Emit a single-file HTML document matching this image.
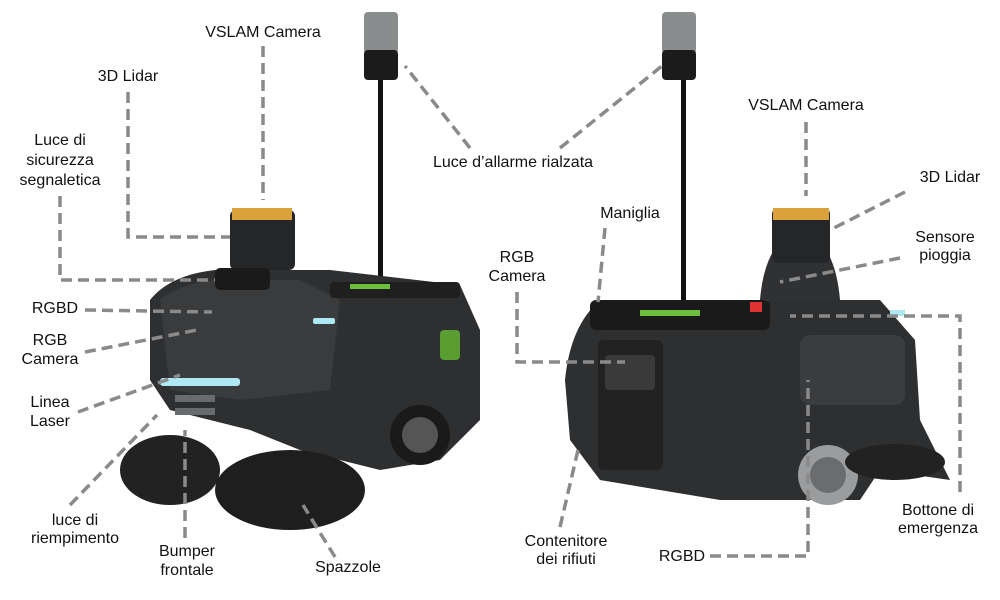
<!DOCTYPE html>
<html><head><meta charset="utf-8"><style>
html,body{margin:0;padding:0;background:#fff;}
svg{display:block;}
text{font-family:"Liberation Sans",sans-serif;font-size:16px;fill:#111;text-anchor:middle;}
.d{stroke:#8a8a8a;stroke-width:3.5;fill:none;stroke-dasharray:11 6;}
</style></head><body>
<svg width="1000" height="600" viewBox="0 0 1000 600" xmlns="http://www.w3.org/2000/svg">
<rect width="1000" height="600" fill="#fff"/>
<!-- LEFT ROBOT -->
<rect x="378" y="75" width="5" height="215" fill="#111"/>
<rect x="364" y="12" width="34" height="42" rx="4" fill="#8a8d8e"/>
<rect x="364" y="50" width="34" height="30" rx="4" fill="#1b1b1b"/>
<path d="M150 300 Q170 275 215 270 L330 270 L460 285 L480 330 L480 420 L440 460 L380 470 L300 450 L250 430 L170 410 L150 380 Z" fill="#2e2f31"/>
<path d="M160 300 Q175 285 215 280 L300 280 L340 300 L330 390 L240 400 L170 390 Z" fill="#3a3b3d"/>
<rect x="230" y="210" width="65" height="60" rx="6" fill="#252628"/>
<rect x="232" y="208" width="60" height="12" fill="#d9a23a"/>
<rect x="215" y="268" width="55" height="22" rx="5" fill="#1a1a1a"/>
<rect x="160" y="378" width="80" height="8" rx="3" fill="#aee8f5"/>
<rect x="313" y="318" width="22" height="6" rx="2" fill="#aee8f5"/>
<rect x="330" y="282" width="130" height="16" rx="4" fill="#1f1f1f"/>
<rect x="350" y="284" width="40" height="5" fill="#6bbf3a"/>
<rect x="440" y="330" width="20" height="30" rx="4" fill="#5a9e32"/>
<rect x="175" y="395" width="40" height="7" fill="#6a6b6d"/>
<rect x="175" y="408" width="40" height="7" fill="#6a6b6d"/>
<circle cx="420" cy="435" r="30" fill="#1a1a1a"/>
<circle cx="420" cy="435" r="18" fill="#555"/>
<ellipse cx="170" cy="470" rx="50" ry="35" fill="#222"/>
<ellipse cx="290" cy="490" rx="75" ry="40" fill="#1e1e1e"/>
<!-- RIGHT ROBOT -->
<rect x="681" y="75" width="5" height="235" fill="#111"/>
<rect x="662" y="12" width="34" height="42" rx="4" fill="#8a8d8e"/>
<rect x="662" y="50" width="34" height="30" rx="4" fill="#1b1b1b"/>
<path d="M565 380 Q570 330 595 305 L770 300 L880 300 L915 340 L920 420 L950 480 L880 470 L860 500 L720 500 L600 480 L570 440 Z" fill="#2e2f31"/>
<rect x="590" y="300" width="180" height="30" rx="6" fill="#1a1a1a"/>
<rect x="640" y="310" width="60" height="6" fill="#6bbf3a"/>
<rect x="750" y="302" width="12" height="10" fill="#d33"/>
<path d="M760 300 Q765 240 800 230 Q835 240 840 300 Z" fill="#303133"/>
<rect x="772" y="208" width="58" height="55" rx="6" fill="#252628"/>
<rect x="773" y="208" width="56" height="12" fill="#d9a23a"/>
<rect x="598" y="340" width="65" height="130" rx="6" fill="#222"/>
<rect x="605" y="355" width="50" height="35" rx="4" fill="#3a3a3a"/>
<rect x="800" y="335" width="105" height="70" rx="10" fill="#3b3c3e"/>
<circle cx="828" cy="475" r="30" fill="#9a9c9e"/>
<circle cx="828" cy="475" r="18" fill="#6a6c6e"/>
<ellipse cx="895" cy="462" rx="50" ry="18" fill="#222"/>
<rect x="890" y="310" width="15" height="6" fill="#aee8f5"/>
<!-- LABELS & CONNECTORS LEFT -->
<text x="263" y="37">VSLAM Camera</text>
<path class="d" d="M263 46 V200"/>
<text x="128" y="81">3D Lidar</text>
<path class="d" d="M128 92 V237 H230"/>
<text x="60" y="145">Luce di</text><text x="60" y="165">sicurezza</text><text x="60" y="185">segnaletica</text>
<path class="d" d="M60 196 V280 H215"/>
<text x="55" y="313">RGBD</text>
<path class="d" d="M85 310 L212 312"/>
<text x="50" y="345">RGB</text><text x="50" y="364">Camera</text>
<path class="d" d="M85 352 L197 330"/>
<text x="50" y="407">Linea</text><text x="50" y="426">Laser</text>
<path class="d" d="M78 412 L180 375"/>
<text x="75" y="525">luce di</text><text x="75" y="543">riempimento</text>
<path class="d" d="M70 505 L157 415"/>
<text x="187" y="556">Bumper</text><text x="187" y="575">frontale</text>
<path class="d" d="M185 538 V430"/>
<text x="348" y="572">Spazzole</text>
<path class="d" d="M335 557 L303 505"/>
<text x="513" y="167">Luce d’allarme rialzata</text>
<path class="d" d="M470 148 L405 66"/>
<path class="d" d="M560 148 L662 66"/>
<!-- LABELS RIGHT -->
<text x="630" y="218">Maniglia</text>
<path class="d" d="M605 228 L598 302"/>
<text x="517" y="262">RGB</text><text x="517" y="281">Camera</text>
<path class="d" d="M517 292 V362 H625"/>
<text x="806" y="110">VSLAM Camera</text>
<path class="d" d="M806 122 V196"/>
<text x="950" y="182">3D Lidar</text>
<path class="d" d="M905 192 L830 230"/>
<text x="945" y="242">Sensore</text><text x="945" y="260">pioggia</text>
<path class="d" d="M900 258 L780 282"/>
<text x="938" y="515">Bottone di</text><text x="938" y="533">emergenza</text>
<path class="d" d="M960 492 V316 H790"/>
<text x="682" y="561">RGBD</text>
<path class="d" d="M710 556 H808 V380"/>
<text x="566" y="546">Contenitore</text><text x="566" y="564">dei rifiuti</text>
<path class="d" d="M560 527 L578 450"/>
</svg>
</body></html>
